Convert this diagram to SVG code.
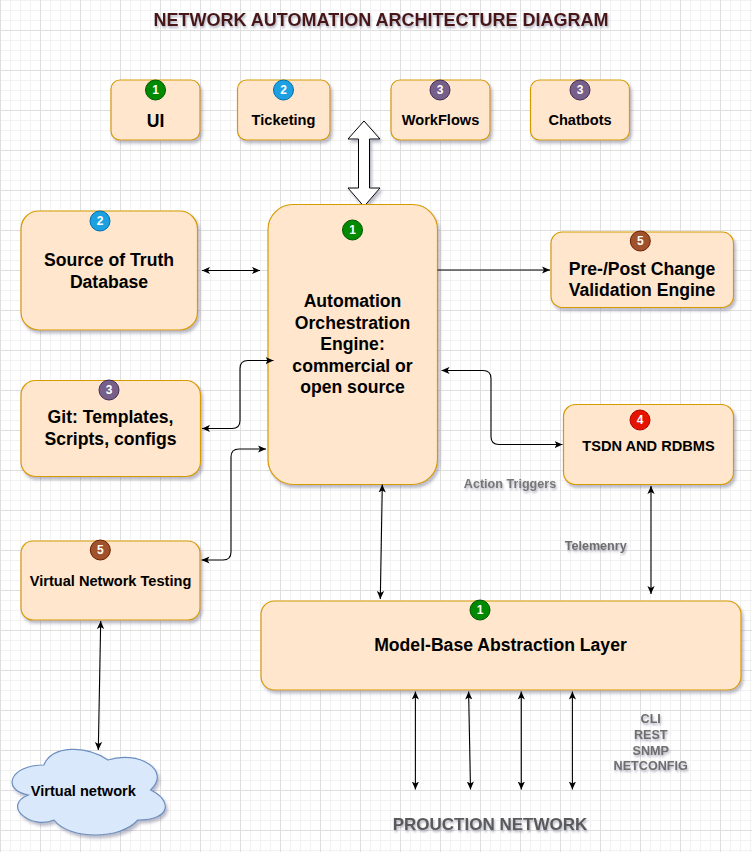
<svg xmlns="http://www.w3.org/2000/svg" width="752" height="852" viewBox="0 0 752 852">
<style>
text{font-family:"Liberation Sans",Arial,Helvetica,sans-serif;font-weight:bold;text-anchor:middle;fill:#000}
.box{fill:#ffe6cc;stroke:#d79b00;stroke-width:1.2;filter:url(#sh)}
.b18{font-size:17.6px}
.b14{font-size:14.6px}
.num{font-size:12px;fill:#fff}
.lbl{font-size:12.6px;fill:#777;filter:url(#tsh)}
.conn path{fill:none;stroke:#000;stroke-width:1.1}
.dbl{marker-start:url(#ah);marker-end:url(#ah)}
.one{marker-end:url(#ah)}
</style>
<defs>
<pattern id="grid" width="40" height="40" x="0" y="-10" patternUnits="userSpaceOnUse">
<path d="M10.5 0V40M20.5 0V40M30.5 0V40M0 10.5H40M0 20.5H40M0 30.5H40" stroke="#f2f2f2" stroke-width="1" fill="none"/>
<path d="M0.5 0V40M0 0.5H40" stroke="#dedede" stroke-width="1" fill="none"/>
</pattern>
<filter id="sh" x="-10%" y="-10%" width="125%" height="130%">
<feDropShadow dx="2" dy="3" stdDeviation="1.6" flood-color="#6b6b8a" flood-opacity="0.45"/>
</filter>
<filter id="tsh" x="-10%" y="-30%" width="120%" height="180%">
<feDropShadow dx="1" dy="2" stdDeviation="1.3" flood-color="#555577" flood-opacity="0.45"/>
</filter>
<marker id="ah" viewBox="0 0 8 8" refX="8" refY="4" markerWidth="8" markerHeight="8" markerUnits="userSpaceOnUse" orient="auto-start-reverse">
<path d="M0 0.4L8 4L0 7.6L2 4Z" fill="#000"/>
</marker>
</defs>
<rect width="752" height="852" fill="#fff"/>
<rect width="752" height="852" fill="url(#grid)"/>

<text x="381" y="26" style="font-size:18px;fill:#4a1717;filter:url(#tsh)">NETWORK AUTOMATION ARCHITECTURE DIAGRAM</text>

<g id="ui">
<rect class="box" x="111" y="80" width="89" height="60" rx="9"/>
<circle cx="155.5" cy="90" r="10" fill="#008a00" stroke="#005700"/>
<text class="num" x="155.5" y="94.3">1</text>
<text class="b18" x="155.5" y="126.5">UI</text>
</g>
<g id="ticketing">
<rect class="box" x="237.5" y="80" width="92.5" height="60" rx="9"/>
<circle cx="283.5" cy="90" r="10" fill="#1ba1e2" stroke="#006eaf"/>
<text class="num" x="283.5" y="94.3">2</text>
<text class="b14" x="283.5" y="125">Ticketing</text>
</g>
<g id="workflows">
<rect class="box" x="391" y="80" width="99" height="60" rx="9"/>
<circle cx="440" cy="90" r="10" fill="#76608a" stroke="#432d57"/>
<text class="num" x="440" y="94.3">3</text>
<text class="b14" x="440.5" y="125">WorkFlows</text>
</g>
<g id="chatbots">
<rect class="box" x="530.5" y="80" width="99" height="60" rx="9"/>
<circle cx="580" cy="90" r="10" fill="#76608a" stroke="#432d57"/>
<text class="num" x="580" y="94.3">3</text>
<text class="b14" x="580" y="125">Chatbots</text>
</g>

<g id="ui-link">
<polygon points="364,121 380,139 369.5,139 369.5,188 380,188 364,206.5 348,188 358.5,188 358.5,139 348,139" fill="#fff" stroke="#000" stroke-width="1" filter="url(#sh)"/>
</g>

<g id="sot">
<rect class="box" x="21" y="211" width="176.5" height="119" rx="17.8"/>
<circle cx="100" cy="221" r="10" fill="#1ba1e2" stroke="#006eaf"/>
<text class="num" x="100" y="225.3">2</text>
<text class="b18" x="109" y="265.5">Source of Truth</text>
<text class="b18" x="109" y="287.5">Database</text>
</g>
<g id="engine">
<rect class="box" x="268" y="204.5" width="169.5" height="280" rx="25"/>
<circle cx="352.5" cy="230" r="10" fill="#008a00" stroke="#005700"/>
<text class="num" x="352.5" y="234.3">1</text>
<text class="b18" x="352.5" y="307.3">Automation</text>
<text class="b18" x="352.5" y="328.8">Orchestration</text>
<text class="b18" x="352.5" y="350.3">Engine:</text>
<text class="b18" x="352.5" y="371.8">commercial or</text>
<text class="b18" x="352.5" y="393.3">open source</text>
</g>
<g id="validation">
<rect class="box" x="551" y="232" width="182.5" height="75.5" rx="11.3"/>
<circle cx="640.3" cy="241" r="10" fill="#a0522d" stroke="#6d1f00"/>
<text class="num" x="640.3" y="245.3">5</text>
<text class="b18" x="642" y="275">Pre-/Post Change</text>
<text class="b18" x="642" y="296">Validation Engine</text>
</g>
<g id="git">
<rect class="box" x="21" y="380.5" width="179.5" height="96" rx="14.4"/>
<circle cx="109" cy="390" r="10" fill="#76608a" stroke="#432d57"/>
<text class="num" x="109" y="394.3">3</text>
<text class="b18" x="110.5" y="422.7">Git: Templates,</text>
<text class="b18" x="110.5" y="445">Scripts, configs</text>
</g>
<g id="tsdn">
<rect class="box" x="563.5" y="404.5" width="170" height="80" rx="12"/>
<circle cx="640" cy="420" r="10" fill="#e51400" stroke="#b20000"/>
<text class="num" x="640" y="424.3">4</text>
<text class="b14" x="648.5" y="450.5">TSDN AND RDBMS</text>
</g>
<g id="vnt">
<rect class="box" x="21" y="541" width="179" height="79" rx="11.9"/>
<circle cx="100.3" cy="550" r="10" fill="#a0522d" stroke="#6d1f00"/>
<text class="num" x="100.3" y="554.3">5</text>
<text class="b14" x="110.5" y="586">Virtual Network Testing</text>
</g>
<g id="mbal">
<rect class="box" x="261" y="601" width="480" height="89" rx="13.4"/>
<circle cx="480" cy="610" r="10" fill="#008a00" stroke="#005700"/>
<text class="num" x="480" y="614.3">1</text>
<text class="b18" x="500.5" y="651">Model-Base Abstraction Layer</text>
</g>
<g id="vnet">
<path d="M43.75 765C9.55 765 1 790 28.36 795C1 806 31.78 830 54.01 820C69.4 840 120.7 840 137.8 820C172 820 172 800 150.6 790C172 770 137.8 750 107.9 760C86.5 745 52.3 745 43.75 765Z" fill="#dae8fc" stroke="#6c8ebf" stroke-width="1.2" filter="url(#sh)"/>
<text class="b14" x="83.3" y="795.7">Virtual network</text>
</g>

<g id="connectors" class="conn">
<path class="dbl" d="M202 270.5H260"/>
<path class="one" d="M437.5 270H550"/>
<path class="dbl" d="M202 428.5H232Q240 428.5 240 420.5V368.5Q240 360.5 248 360.5H273.5"/>
<path class="dbl" d="M201.5 560H223Q231 560 231 552V457Q231 449 239 449H266"/>
<path class="dbl" d="M441.5 370.5H483Q491 370.5 491 378.5V436.5Q491 444.5 499 444.5H562.5"/>
<path class="dbl" d="M382.3 484.5L380.3 599"/>
<path class="dbl" d="M651 486V594"/>
<path class="dbl" d="M100.7 621L98.3 750"/>
<path class="dbl" d="M415.4 691.5V789.5"/>
<path class="dbl" d="M468.6 691.5L470.5 789.5"/>
<path class="dbl" d="M521.3 691.5V789.5"/>
<path class="dbl" d="M572.4 691.5V789.5"/>
</g>

<g id="labels">
<text class="lbl" x="510" y="487.5">Action Triggers</text>
<text class="lbl" x="595.7" y="550" style="fill:#6e6e6e">Telemenry</text>
<text class="lbl" x="650.7" y="723.3" style="fill:#6e6e6e">CLI</text>
<text class="lbl" x="650.7" y="739" style="fill:#6e6e6e">REST</text>
<text class="lbl" x="650.7" y="754.5" style="fill:#6e6e6e">SNMP</text>
<text class="lbl" x="650.7" y="770" style="fill:#6e6e6e">NETCONFIG</text>
<text class="lbl" x="490" y="830" style="font-size:17px;fill:#5a5a5a">PROUCTION NETWORK</text>
</g>
</svg>
